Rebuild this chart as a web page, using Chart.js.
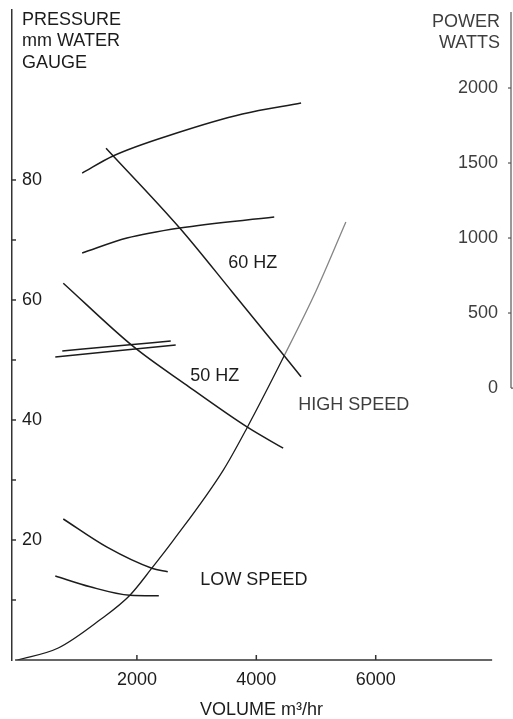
<!DOCTYPE html>
<html>
<head>
<meta charset="utf-8">
<script src="https://cdn.jsdelivr.net/npm/chart.js@4.4.1/dist/chart.umd.min.js"></script>
<style>
  html, body { margin: 0; padding: 0; background: #fff; }
  #wrap { width: 513px; height: 719px; position: relative; }
</style>
</head>
<body>
<div id="wrap"><canvas id="fan"></canvas></div>
<script>
/* fan curves: volume m3/hr against pressure (mm w.g.) and power (W) */
const VOLUME_TICKS = [2000, 4000, 6000];
const PRESSURE_TICKS = [10, 20, 30, 40, 50, 60, 70, 80];
const POWER_TICKS = [0, 500, 1000, 1500, 2000];

// high speed pressure
const HS60_VOL = [1483, 2717, 3600, 4467, 4750];
const HS60_PRESS = [85.3, 72.0, 61.3, 50.7, 47.2];
const HS50_VOL = [767, 1933, 2833, 3850, 4450];
const HS50_PRESS = [62.8, 52.3, 45.8, 38.8, 35.3];
// low speed pressure
const LS60_VOL = [767, 1500, 2250, 2517];
const LS60_PRESS = [23.5, 18.8, 15.3, 14.7];
const LS50_VOL = [633, 1217, 1883, 2367];
const LS50_PRESS = [14.0, 12.2, 10.8, 10.7];
// power absorbed
const HS60_POW_VOL = [1083, 1600, 2667, 3767, 4750];
const HS60_POWER = [1433, 1547, 1700, 1827, 1900];
const HS50_POW_VOL = [1083, 1833, 2717, 4300];
const HS50_POWER = [900, 1000, 1067, 1140];
const LS60_POW_VOL = [750, 1650, 2567];
const LS60_POWER = [247, 280, 313];
const LS50_POW_VOL = [633, 1633, 2650];
const LS50_POWER = [207, 247, 287];
// system resistance
const SYS_VOL = [0, 683, 1383, 1883, 2250, 2600, 3450, 3850, 4467, 5000, 5500];
const SYS_PRESS = [0, 2.0, 6.7, 10.8, 15.3, 19.8, 31.7, 38.8, 50.7, 61.5, 73.0];

const FONT = { family: "'Liberation Sans', Arial, Helvetica, sans-serif", size: 18, lineHeight: 1 };
const INK = '#1c1c1c';
const GREY_INK = '#3e3e3e';

const pts = (xs, ys) => xs.map((v, i) => ({ x: v, y: ys[i] }));

function curve(xs, ys, axis) {
  return {
    data: pts(xs, ys), yAxisID: axis,
    borderColor: INK, borderWidth: 1.5,
    pointRadius: 0, cubicInterpolationMode: 'monotone', fill: false
  };
}

const sysCurve = curve(SYS_VOL, SYS_PRESS, 'y');
sysCurve.borderWidth = 1.3;
sysCurve.segment = { borderColor: c => c.p0.parsed.y >= 39 ? '#858585' : INK };

// texts placed in data units
const NOTES = [
  { text: '60 HZ', x: 3531, y: 66.2, color: INK },
  { text: '50 HZ', x: 2895, y: 47.3, color: INK },
  { text: 'HIGH SPEED', x: 4703, y: 42.5, color: GREY_INK },
  { text: 'LOW SPEED', x: 3063, y: 13.3, color: INK }
];

// keep the plot box fixed: axes take no room of their own
const clearPad = s => { s.paddingTop = 0; s.paddingBottom = 0; s.paddingLeft = 0; s.paddingRight = 0; };
const flatY = s => { clearPad(s); s.width = 0; };
const flatX = s => { clearPad(s); s.height = 59; };

const drawExtras = {
  id: 'drawExtras',
  afterDraw(chart) {
    const { ctx, chartArea: ca, scales: { x, y, power } } = chart;
    const seg = (x1, y1, x2, y2) => { ctx.beginPath(); ctx.moveTo(x1, y1); ctx.lineTo(x2, y2); ctx.stroke(); };
    ctx.save();
    ctx.strokeStyle = '#333';
    ctx.lineWidth = 1.5;
    // volume axis, stops short of the power axis
    seg(x.getPixelForValue(-40), ca.bottom, x.getPixelForValue(7950), ca.bottom);
    VOLUME_TICKS.forEach(v => { const px = x.getPixelForValue(v); seg(px, ca.bottom, px, ca.bottom - 5); });
    PRESSURE_TICKS.forEach(v => { const py = y.getPixelForValue(v); seg(ca.left, py, ca.left + 4, py); });
    // power axis only spans its own range
    ctx.strokeStyle = '#555';
    ctx.lineWidth = 1.2;
    const px = ca.right;
    const y0 = power.getPixelForValue(0);
    seg(px, power.getPixelForValue(2507), px, y0);
    seg(px, y0, px + 3, y0);
    POWER_TICKS.slice(1).forEach(v => { const py = power.getPixelForValue(v); seg(px - 3, py, px, py); });

    ctx.font = `${FONT.size}px ${FONT.family}`;
    ctx.textBaseline = 'middle';
    ctx.textAlign = 'left';
    NOTES.forEach(n => {
      ctx.fillStyle = n.color;
      ctx.fillText(n.text, x.getPixelForValue(n.x), y.getPixelForValue(n.y));
    });
    ctx.fillStyle = INK;
    ['PRESSURE', 'mm WATER', 'GAUGE'].forEach((t, i) => ctx.fillText(t, ca.left + 10, 20 + i * 21.5));
    ctx.textAlign = 'right';
    ctx.fillStyle = GREY_INK;
    ['POWER', 'WATTS'].forEach((t, i) => ctx.fillText(t, 500, 22 + i * 21.5));
    ctx.restore();
  }
};

new Chart(document.getElementById('fan'), {
  type: 'line',
  data: {
    datasets: [
      curve(HS60_POW_VOL, HS60_POWER, 'power'),
      curve(HS50_POW_VOL, HS50_POWER, 'power'),
      curve(LS60_POW_VOL, LS60_POWER, 'power'),
      curve(LS50_POW_VOL, LS50_POWER, 'power'),
      curve(HS60_VOL, HS60_PRESS, 'y'),
      curve(HS50_VOL, HS50_PRESS, 'y'),
      curve(LS60_VOL, LS60_PRESS, 'y'),
      curve(LS50_VOL, LS50_PRESS, 'y'),
      sysCurve
    ]
  },
  options: {
    responsive: true, maintainAspectRatio: false, animation: false,
    layout: { padding: { left: 12, right: 2, top: 10, bottom: 0 } },
    plugins: { legend: { display: false }, tooltip: { enabled: false } },
    scales: {
      x: {
        type: 'linear', min: -92, max: 8266,
        afterBuildTicks: s => { s.ticks = VOLUME_TICKS.map(v => ({ value: v })); },
        afterFit: flatX,
        grid: { display: false, drawTicks: false },
        border: { display: false },
        ticks: { font: { ...FONT, lineHeight: 1.2 }, color: INK, padding: 9, maxRotation: 0, callback: v => String(v) },
        title: { display: true, text: 'VOLUME m³/hr', font: FONT, color: INK, padding: { top: 10.4, bottom: 0 } }
      },
      y: {
        position: 'left', min: 0, max: 108.33,
        afterBuildTicks: s => { s.ticks = PRESSURE_TICKS.map(v => ({ value: v })); },
        afterFit: flatY,
        grid: { display: false, drawTicks: false },
        border: { display: true, color: '#333', width: 1.5 },
        ticks: { mirror: true, padding: 10, font: FONT, color: INK, callback: v => (v % 20 === 0 ? String(v) : '') }
      },
      power: {
        position: 'right', min: -1813, max: 2520,
        afterBuildTicks: s => { s.ticks = POWER_TICKS.map(v => ({ value: v })); },
        afterFit: flatY,
        grid: { display: false, drawTicks: false },
        border: { display: false },
        ticks: { mirror: true, padding: -13, font: FONT, color: GREY_INK, callback: v => String(v) }
      }
    }
  },
  plugins: [drawExtras]
});
</script>
</body>
</html>
